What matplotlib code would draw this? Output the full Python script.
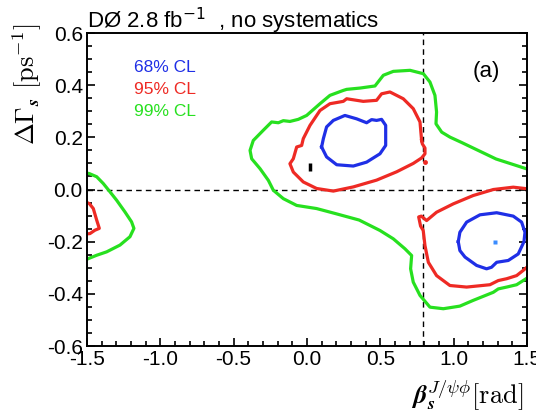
import matplotlib
matplotlib.use("Agg")
import matplotlib.pyplot as plt
from matplotlib.ticker import MultipleLocator, FormatStrFormatter

plt.rcParams['font.family'] = ['Liberation Sans', 'DejaVu Sans']
plt.rcParams['axes.unicode_minus'] = False

# contour lines (beta_s [rad], DeltaGamma_s [ps^-1])
green_main_x = [1.50, 1.29, 1.056, 0.975, 0.919, 0.880, 0.884, 0.873, 0.839, 0.794, 0.703, 0.589, 0.521,
                0.464, 0.362, 0.271, 0.248, 0.157, 0.089, -0.002, -0.059, -0.116, -0.161, -0.195, -0.241,
                -0.298, -0.366, -0.388, -0.377, -0.32, -0.263, -0.229, -0.161, -0.07, 0.066, 0.193, 0.356,
                0.498, 0.589, 0.668, 0.714, 0.707, 0.725, 0.771, 0.839, 0.930, 1.043, 1.134, 1.271, 1.305,
                1.362, 1.43, 1.475, 1.50]
green_main_y = [0.079, 0.117, 0.18, 0.201, 0.220, 0.252, 0.297, 0.361, 0.412, 0.444, 0.457, 0.453, 0.438,
                0.397, 0.389, 0.384, 0.380, 0.361, 0.329, 0.284, 0.269, 0.261, 0.264, 0.256, 0.259,
                0.227, 0.188, 0.150, 0.118, 0.080, 0.035, -0.003, -0.035, -0.061, -0.073, -0.092, -0.117,
                -0.157, -0.189, -0.227, -0.253, -0.304, -0.355, -0.406, -0.451, -0.457, -0.447, -0.425, -0.394,
                -0.381, -0.374, -0.365, -0.349, -0.34]

green_left_x = [-1.50, -1.484, -1.434, -1.389, -1.343, -1.298, -1.241, -1.196, -1.180, -1.207, -1.275,
                -1.366, -1.434, -1.50]
green_left_y = [0.063, 0.061, 0.049, 0.023, -0.009, -0.041, -0.086, -0.124, -0.149, -0.181, -0.213,
                -0.239, -0.252, -0.267]

red_main_x = [0.782, 0.771, 0.725, 0.657, 0.566, 0.509, 0.475, 0.384, 0.271, 0.248, 0.157, 0.089, 0.021,
              -0.025, -0.036, -0.07, -0.093, -0.116, -0.093, -0.025, 0.066, 0.180, 0.316, 0.475, 0.612,
              0.725, 0.782, 0.805, 0.805, 0.787, 0.782]
red_main_y = [0.188, 0.259, 0.310, 0.348, 0.374, 0.367, 0.342, 0.338, 0.348, 0.338, 0.329, 0.303, 0.246,
              0.195, 0.169, 0.163, 0.118, 0.099, 0.067, 0.029, 0.004, -0.006, 0.01, 0.036, 0.068,
              0.1, 0.121, 0.137, 0.159, 0.175, 0.188]
red_blob = (0.806, 0.104)

red_right_x = [1.50, 1.407, 1.271, 1.134, 0.998, 0.884, 0.816, 0.78, 0.762, 0.775, 0.793, 0.805, 0.828,
               0.884, 0.975, 1.089, 1.248, 1.305, 1.362, 1.43, 1.475, 1.50]
red_right_y = [0.003, 0.009, 0.0, -0.023, -0.055, -0.087, -0.119, -0.102, -0.105, -0.14, -0.157, -0.215,
               -0.279, -0.330, -0.368, -0.374, -0.365, -0.349, -0.342, -0.330, -0.310, -0.298]

red_left_x = [-1.50, -1.484, -1.457, -1.434, -1.416, -1.446, -1.480, -1.50]
red_left_y = [-0.05, -0.054, -0.073, -0.117, -0.149, -0.156, -0.169, -0.17]

blue_main_x = [0.1, 0.134, 0.203, 0.316, 0.407, 0.498, 0.537, 0.537, 0.509, 0.475, 0.441, 0.407, 0.339,
               0.259, 0.180, 0.134, 0.112, 0.1]
blue_main_y = [0.163, 0.125, 0.095, 0.090, 0.105, 0.137, 0.169, 0.246, 0.269, 0.265, 0.268, 0.256, 0.271,
               0.284, 0.265, 0.24, 0.195, 0.163]

blue_right_x = [1.032, 1.043, 1.089, 1.18, 1.294, 1.407, 1.464, 1.487, 1.48, 1.441, 1.373, 1.294, 1.259,
                1.225, 1.157, 1.078, 1.043, 1.032]
blue_right_y = [-0.2, -0.164, -0.125, -0.097, -0.089, -0.102, -0.125, -0.164, -0.2, -0.247, -0.272, -0.279,
                -0.298, -0.304, -0.291, -0.259, -0.234, -0.2]

best_fit = (1.282, -0.2)
black_mark_x = [0.021, 0.021]
black_mark_y = [0.071, 0.103]

ref_beta = 0.79

levels = ["68% CL", "95% CL", "99% CL"]
colors = ["#1f2fe6", "#ee2a24", "#27e01f"]

fig = plt.figure(figsize=(5.36, 4.18), dpi=100)
ax = fig.add_axes([0.1623, 0.1722, 0.8207, 0.7488])

ax.axhline(0.0, color='black', lw=1, ls=(0, (4, 3)))
ax.axvline(ref_beta, color='black', lw=1, ls=(0, (4, 3)))

lw = 2.3
ax.plot(green_main_x, green_main_y, color=colors[2], lw=lw, solid_joinstyle='round')
ax.plot(green_left_x, green_left_y, color=colors[2], lw=lw, solid_joinstyle='round')
ax.plot(red_main_x, red_main_y, color=colors[1], lw=lw, solid_joinstyle='round')
ax.plot(red_right_x, red_right_y, color=colors[1], lw=lw, solid_joinstyle='round')
ax.plot(red_left_x, red_left_y, color=colors[1], lw=lw, solid_joinstyle='round')
ax.plot(*red_blob, 'o', color=colors[1], ms=3.5, mec='none')
ax.plot(blue_main_x, blue_main_y, color=colors[0], lw=lw, solid_joinstyle='round')
ax.plot(blue_right_x, blue_right_y, color=colors[0], lw=lw, solid_joinstyle='round')
ax.plot(*best_fit, 's', color='#3a8cff', ms=2.2, mec='none')
ax.plot(black_mark_x, black_mark_y, color='black', lw=2.5, solid_capstyle='butt')

ax.set_xlim(-1.5, 1.5)
ax.set_ylim(-0.6, 0.6)
ax.xaxis.set_major_locator(MultipleLocator(0.5))
ax.xaxis.set_minor_locator(MultipleLocator(0.1))
ax.yaxis.set_major_locator(MultipleLocator(0.2))
ax.yaxis.set_minor_locator(MultipleLocator(0.05))
ax.xaxis.set_major_formatter(FormatStrFormatter('%.1f'))
ax.yaxis.set_major_formatter(FormatStrFormatter('%.1f'))
ax.tick_params(which='both', direction='in', top=False, right=True, width=1.2, labelsize=15)
ax.tick_params(which='major', length=6)
ax.tick_params(which='minor', length=3.5)
ax.tick_params(axis='y', pad=3)
ax.tick_params(axis='x', pad=3)
for s in ax.spines.values():
    s.set_linewidth(1.4)

for i, (lab, c) in enumerate(zip(levels, colors)):
    ax.text(0.107, 0.874 - i * 0.069, lab, color=c, fontsize=12.5, transform=ax.transAxes, va='baseline')
ax.text(0.877, 0.859, "(a)", fontsize=16, transform=ax.transAxes, va='baseline')

fig.text(0.162, 1 - 28 / 418, r"DØ 2.8 fb$^{-1}$  , no systematics", fontsize=16,
         va='baseline', math_fontfamily='dejavusans')
fig.text(0.05, 0.797, r"$\mathbf{\Delta\Gamma}_{\boldsymbol{s}}\ [\mathrm{ps}^{-1}]$", rotation=90,
         fontsize=19, ha='center', va='center', math_fontfamily='cm')
fig.text(0.976, 0.035, r"$\boldsymbol{\beta}_{\boldsymbol{s}}^{J/\psi\phi}[\mathrm{rad}]$", fontsize=19,
         ha='right', va='baseline', math_fontfamily='cm')

fig.savefig("out.png", dpi=100)
